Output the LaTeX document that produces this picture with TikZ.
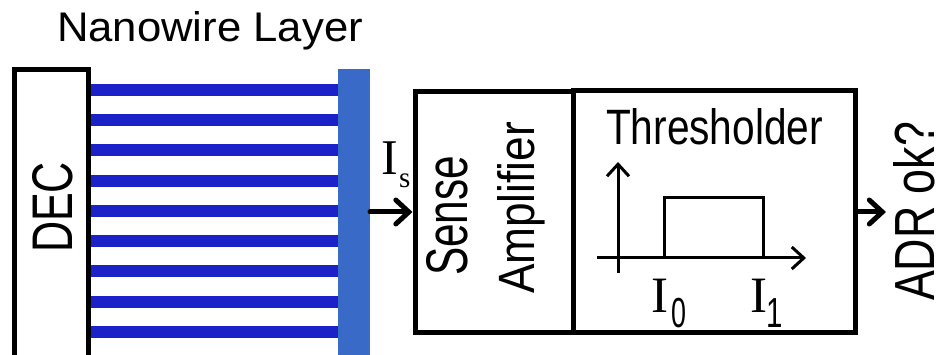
\documentclass[tikz,border=0pt]{standalone}
\usepackage{fontspec}
\usepackage{graphicx}
\usetikzlibrary{arrows.meta}
\newfontfamily\arialf{Liberation Sans}
\newfontfamily\tnrf{Liberation Serif}
\definecolor{wirec}{RGB}{27,35,200}
\definecolor{barc}{RGB}{57,106,200}
\newcommand{\fitt}[3]{\resizebox{#1pt}{#2pt}{\arialf #3}}
\begin{document}
\begin{tikzpicture}[x=1pt,y=-1pt,
  blk/.style={draw=black,line width=5pt,fill=white,inner sep=0pt},
  txt/.style={inner sep=0pt,outer sep=0pt},
  wire/.style={draw=wirec,line width=12pt},
  conn/.style={line width=5pt,line cap=round,-{Straight Barb[length=13pt,width=24pt,line cap=round]}},
  axis/.style={line width=3pt,-{Straight Barb[length=12pt,width=22pt]}},
  pulse/.style={line width=3pt,line join=miter}]
\useasboundingbox (0,0) rectangle (940,355);
\clip (0,0) rectangle (940,355);
\fill[white] (0,0) rectangle (940,355);
% title
\node[txt,anchor=base west] (title) at (57,42) {\fitt{306}{30}{Nanowire Layer}};
% decoder box
\node[blk,minimum width=74pt,minimum height=340pt] (dec) at (51,240) {};
\node[txt,rotate=90,anchor=base west] (declbl) at (72,253) {\fitt{91}{40}{DEC}};
% collector bar
\node[txt,fill=barc,minimum width=32pt,minimum height=300pt] (bar) at (354,219) {};
% nanowires
\foreach \k in {0,...,8}{
  \coordinate (wl\k) at (90.5,{90+30.25*\k});
  \draw[wire] (wl\k) -- (wl\k -| bar.west);
}
% sense amplifier and thresholder
\node[blk,minimum width=158pt,minimum height=241pt] (sa) at (494,212) {};
\node[blk,minimum width=282pt,minimum height=242pt] (th) at (714,212) {};
\node[txt,rotate=90,anchor=base west] (sense) at (467,276) {\fitt{120}{41}{Sense}};
\node[txt,rotate=90,anchor=base west] (ampl) at (534,294) {\fitt{172}{37}{Amplifier}};
\node[txt,anchor=base west] (thlbl) at (606,145) {\fitt{217}{36}{Thresholder}};
% input current label
\node[txt,anchor=base west] (is) at (381,175) {\fontsize{50}{50}\selectfont\tnrf I};
\node[txt,anchor=base west] (iss) at (399,188) {\fontsize{29}{29}\selectfont\tnrf s};
% connectors
\draw[conn] (bar.east |- sa.west) -- (sa.west);
\coordinate (outend) at (886,212);
\draw[conn] (th.east) -- (outend);
\node[txt,rotate=90,anchor=base west] (adr) at (934,301) {\fitt{179}{41}{ADR ok?}};
% threshold plot
\coordinate (vb) at (618,273);
\coordinate (vt) at (618,162);
\coordinate (hl) at (597,258);
\coordinate (hr) at (806,258);
\draw[axis] (vb) -- (vt);
\draw[axis] (hl) -- (hr);
\draw[pulse] (664,258) -- (664,198) -- (763,198) -- (763,258);
\node[txt,anchor=base west] (i0) at (651,313) {\fontsize{51}{51}\selectfont\tnrf I};
\node[txt,anchor=base west] (i0s) at (671,327) {\scalebox{0.64}[1]{\fontsize{42}{42}\selectfont\arialf 0}};
\node[txt,anchor=base west] (i1) at (750,313) {\fontsize{51}{51}\selectfont\tnrf I};
\node[txt,anchor=base west] (i1s) at (766,327) {\scalebox{0.7}[1]{\fontsize{42}{42}\selectfont\arialf 1}};
\end{tikzpicture}
\end{document}
